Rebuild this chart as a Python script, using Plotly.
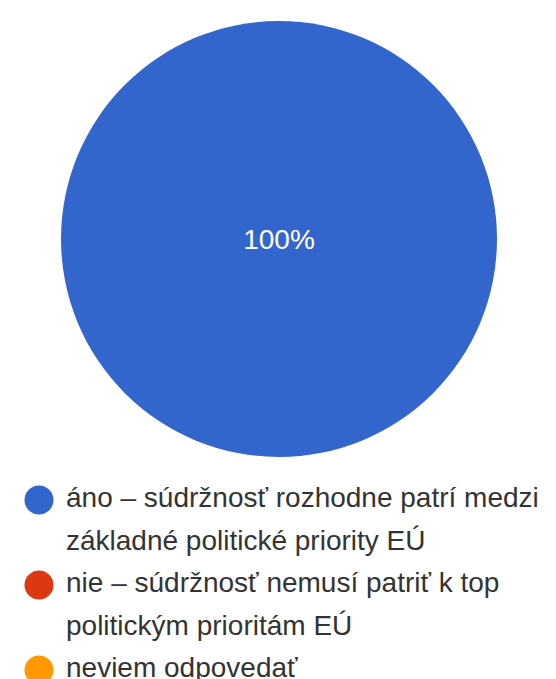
import plotly.graph_objects as go

# ---- data ----
label_lines = [
    ["áno – súdržnosť rozhodne patrí medzi", "základné politické priority EÚ"],
    ["nie – súdržnosť nemusí patriť k top", "politickým prioritám EÚ"],
    ["neviem odpovedať"],
]
labels = [" ".join(l) for l in label_lines]
values = [100, 0, 0]
colors = ["#3366CC", "#DC3912", "#FF9900"]

W, H = 556, 679
FONT = "Liberation Sans, Arial, sans-serif"

# pie geometry (pixels)
cx, cy, r = 271, 231, 218

# legend line layout
line_y = []
entry_y = []
k = 0
for lines in label_lines:
    entry_y.append(k)
    for _ in lines:
        line_y.append(k)
        k += 1
line_text = [t for lines in label_lines for t in lines]

fig = go.Figure()
fig.add_trace(go.Pie(
    labels=labels, values=values, sort=False, direction="clockwise",
    marker=dict(colors=colors, line=dict(width=0)),
    texttemplate=["%{percent:.0%}" if v > 0 else "" for v in values],
    textposition="inside", insidetextorientation="horizontal",
    textfont=dict(family=FONT, size=28, color="white"),
    domain=dict(x=[(cx - r) / W, (cx + r) / W], y=[1 - (cy + r) / H, 1 - (cy - r) / H]),
    showlegend=False, hoverinfo="label+percent",
))

# legend markers
fig.add_trace(go.Scatter(
    x=[31] * len(entry_y), y=entry_y, mode="markers",
    marker=dict(size=29, color=colors, line=dict(width=0)),
    showlegend=False, hoverinfo="skip", xaxis="x", yaxis="y",
))
# legend text
fig.add_trace(go.Scatter(
    x=[58] * len(line_y), y=line_y, mode="text", text=line_text,
    textposition="middle right",
    textfont=dict(family=FONT, size=28, color="#333333"),
    showlegend=False, hoverinfo="skip", xaxis="x", yaxis="y",
))

px_per_line = 42.5
top_px = 466
first_line_px = 492
y_top_val = -(first_line_px - top_px) / px_per_line
y_bot_val = (H - first_line_px) / px_per_line

fig.update_layout(
    width=W, height=H,
    margin=dict(l=0, r=0, t=0, b=0),
    paper_bgcolor="white", plot_bgcolor="white",
    xaxis=dict(range=[0, W], domain=[0, 1], visible=False, fixedrange=True),
    yaxis=dict(range=[y_bot_val, y_top_val], domain=[0, (H - top_px) / H],
               visible=False, fixedrange=True),
    showlegend=False,
)

fig.write_html("out.html")
